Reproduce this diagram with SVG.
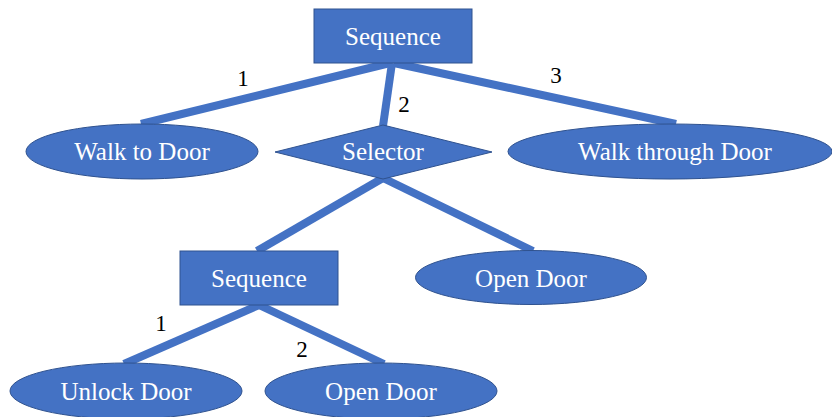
<svg xmlns="http://www.w3.org/2000/svg" width="832" height="417" viewBox="0 0 832 417">
<style>
.shape{fill:#4472C4;stroke:#2F528F;stroke-width:1}
.edge{stroke:#4472C4;stroke-width:8;fill:none}
.lbl{font-size:25px;fill:#FFFFFF;text-anchor:middle}
.num{font-size:23px;fill:#000000;text-anchor:middle}
</style>
<rect width="832" height="417" fill="#FFFFFF"/>
<g font-family="Liberation Serif, DejaVu Serif, serif">
<g id="connectors">
<line class="edge" x1="390" y1="63" x2="141" y2="124"/>
<line class="edge" x1="392" y1="63" x2="383" y2="126"/>
<line class="edge" x1="394" y1="63" x2="676" y2="124"/>
<line class="edge" x1="383" y1="178" x2="257" y2="251"/>
<line class="edge" x1="383" y1="178" x2="533" y2="251"/>
<line class="edge" x1="259" y1="305" x2="124" y2="364"/>
<line class="edge" x1="259" y1="305" x2="384" y2="364"/>
<text class="num" x="243" y="86">1</text>
<text class="num" x="404" y="112">2</text>
<text class="num" x="556" y="83">3</text>
<text class="num" x="161" y="331">1</text>
<text class="num" x="302" y="357">2</text>
</g>
<g id="seq-top">
<rect class="shape" x="314" y="9" width="158" height="54"/>
<text class="lbl" x="393" y="45">Sequence</text>
</g>
<g id="walk-to-door">
<ellipse class="shape" cx="142" cy="151.5" rx="116" ry="27.5"/>
<text class="lbl" x="142" y="160">Walk to Door</text>
</g>
<g id="selector">
<polygon class="shape" points="275,152 383,125 492,152 383,179"/>
<text class="lbl" x="383" y="160">Selector</text>
</g>
<g id="walk-through-door">
<ellipse class="shape" cx="670" cy="151.5" rx="162" ry="27.5"/>
<text class="lbl" x="675" y="160">Walk through Door</text>
</g>
<g id="seq-bottom">
<rect class="shape" x="180" y="251" width="158" height="54"/>
<text class="lbl" x="259" y="287">Sequence</text>
</g>
<g id="open-door-right">
<ellipse class="shape" cx="531" cy="277.5" rx="115.5" ry="27"/>
<text class="lbl" x="531" y="287">Open Door</text>
</g>
<g id="unlock-door">
<ellipse class="shape" cx="126" cy="391" rx="116" ry="28"/>
<text class="lbl" x="126" y="400">Unlock Door</text>
</g>
<g id="open-door-bottom">
<ellipse class="shape" cx="381" cy="391" rx="116" ry="28"/>
<text class="lbl" x="381" y="400">Open Door</text>
</g>
</g>
</svg>
